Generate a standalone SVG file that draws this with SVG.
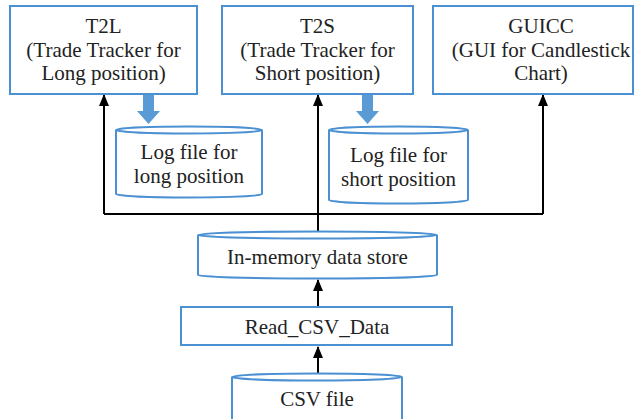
<svg xmlns="http://www.w3.org/2000/svg" width="641" height="419" viewBox="0 0 641 419">
<defs>
<style>
.box{fill:#fff;stroke:#4a90d2;stroke-width:2}
.t{font-size:21px;fill:#222;text-anchor:middle}
.c{fill:none;stroke:#000;stroke-width:2}
.blk{fill:#5b9bd5}
</style>
<marker id="ah" viewBox="0 0 12 10" refX="11" refY="5" markerWidth="12" markerHeight="10" markerUnits="userSpaceOnUse" orient="auto">
<path d="M0,0 L12,5 L0,10 Z" fill="#000"/>
</marker>
</defs>
<rect width="641" height="419" fill="#fff"/>
<g id="connectors">
<path class="c" d="M104,214 H543"/>
<path class="c" d="M104,214 V95" marker-end="url(#ah)"/>
<path class="c" d="M318,232 V95" marker-end="url(#ah)"/>
<path class="c" d="M543,214 V95" marker-end="url(#ah)"/>
<path class="c" d="M318,307 V280" marker-end="url(#ah)"/>
<path class="c" d="M318,373 V347" marker-end="url(#ah)"/>
<path class="blk" d="M143,94 H154 V111 H160 L148.5,124 L137,111 H143 Z"/>
<path class="blk" d="M362,94 H373 V111 H379 L367.5,124 L356,111 H362 Z"/>
</g>
<g font-family="'Liberation Serif', 'Times New Roman', 'DejaVu Serif', serif">
<g id="T2L">
<rect class="box" x="10" y="6" width="187" height="88"/>
<text class="t" x="103.5" y="33">T2L</text>
<text class="t" x="103.5" y="57">(Trade Tracker for</text>
<text class="t" x="103.5" y="80">Long position)</text>
</g>
<g id="T2S">
<rect class="box" x="222" y="6" width="191" height="88"/>
<text class="t" x="317.5" y="33">T2S</text>
<text class="t" x="317.5" y="57">(Trade Tracker for</text>
<text class="t" x="317.5" y="80">Short position)</text>
</g>
<g id="GUICC">
<rect class="box" x="433" y="6" width="200" height="88"/>
<text class="t" x="541" y="33">GUICC</text>
<text class="t" x="541" y="57">(GUI for Candlestick</text>
<text class="t" x="541" y="80">Chart)</text>
</g>
<g id="LogLong">
<path class="box" d="M116,130 A73,3.5 0 0 1 262,130 V194 A73,3.5 0 0 1 116,194 Z"/>
<path class="box" fill="none" d="M116,130 A73,3.5 0 0 0 262,130"/>
<text class="t" x="189" y="159">Log file for</text>
<text class="t" x="189" y="183">long position</text>
</g>
<g id="LogShort">
<path class="box" d="M329,130 A69.5,3.5 0 0 1 468,130 V200 A69.5,3.5 0 0 1 329,200 Z"/>
<path class="box" fill="none" d="M329,130 A69.5,3.5 0 0 0 468,130"/>
<text class="t" x="398.5" y="162">Log file for</text>
<text class="t" x="398.5" y="186">short position</text>
</g>
<g id="InMemory">
<path class="box" d="M198,235 A119.5,3.5 0 0 1 437,235 V275 A119.5,3.5 0 0 1 198,275 Z"/>
<path class="box" fill="none" d="M198,235 A119.5,3.5 0 0 0 437,235"/>
<text class="t" x="317.5" y="264">In-memory data store</text>
</g>
<g id="ReadCSV">
<rect class="box" x="181" y="307" width="271" height="38"/>
<text class="t" x="317" y="334">Read_CSV_Data</text>
</g>
<g id="CSV">
<path class="box" d="M232,377 A85,3.5 0 0 1 402,377 V425 A85,3.5 0 0 1 232,425 Z"/>
<path class="box" fill="none" d="M232,377 A85,3.5 0 0 0 402,377"/>
<text class="t" x="317" y="406">CSV file</text>
</g>
</g>
</svg>
